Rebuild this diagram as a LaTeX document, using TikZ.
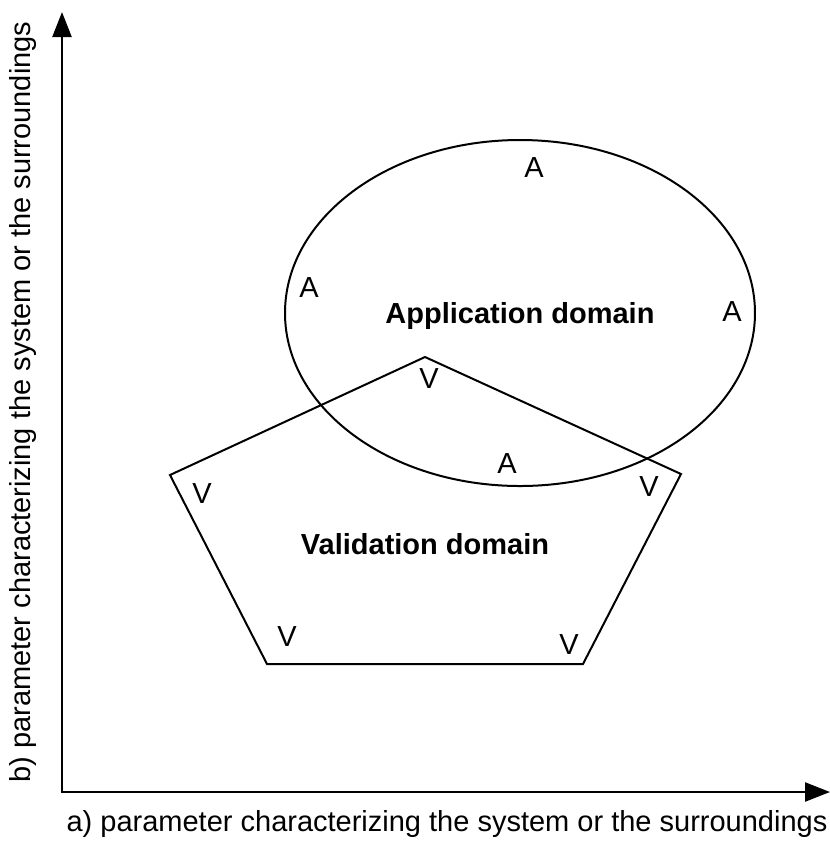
\documentclass[tikz,border=0pt]{standalone}
\usepackage{fontspec}
\setmainfont{Liberation Sans}
\usetikzlibrary{arrows.meta}

\begin{document}
\begin{tikzpicture}
	[x=0.5pt,y=-0.5pt,line join=miter,
	%Styles
	axes/.style={line width=1.2pt,{Triangle[length=12.5pt,width=9.5pt]}-{Triangle[length=12.5pt,width=9.5pt]}},
	domain line/.style={line width=1pt},
	corner mark/.style={font=\fontsize{14.5}{17}\selectfont,inner sep=0pt},
	domain name/.style={font=\fontsize{14.5}{17}\selectfont\bfseries,inner sep=0pt,anchor=base},
	axis text/.style={font=\fontsize{14.5}{17}\selectfont,inner sep=0pt,anchor=base}
	]
	\useasboundingbox (0,0) rectangle (830,843);
	
	%Axes
	\coordinate (origin) at (62,792);
	\coordinate (xtip) at (830,792);
	\coordinate (ytip) at (62,12);
	\draw[axes] (ytip) -- (origin) -- (xtip);
	\node[axis text] (xlabel) at (447,831) {a) parameter characterizing the system or the surroundings};
	\node[axis text,rotate=90] (ylabel) at (31,402) {b) parameter characterizing the system or the surroundings};
	
	%Application domain
	\draw[domain line] (520,313) ellipse [x radius=235, y radius=173];
	\node[domain name] (appname) at (520,323) {Application domain};
	\node[corner mark] (a1) at (534,168) {A};
	\node[corner mark] (a2) at (309,288) {A};
	\node[corner mark] (a3) at (732,312) {A};
	\node[corner mark] (a4) at (507,464) {A};
	
	%Validation domain
	\coordinate (p1) at (425,357);
	\coordinate (p2) at (681,474);
	\coordinate (p3) at (583,664);
	\coordinate (p4) at (267,664);
	\coordinate (p5) at (170,475);
	\draw[domain line] (p1) -- (p2) -- (p3) -- (p4) -- (p5) -- cycle;
	\node[domain name] (valname) at (425,554) {Validation domain};
	\node[corner mark] (v1) at (429,379) {V};
	\node[corner mark] (v2) at (649,487) {V};
	\node[corner mark] (v3) at (569,645) {V};
	\node[corner mark] (v4) at (287,637) {V};
	\node[corner mark] (v5) at (202,494) {V};
\end{tikzpicture}
\end{document}
